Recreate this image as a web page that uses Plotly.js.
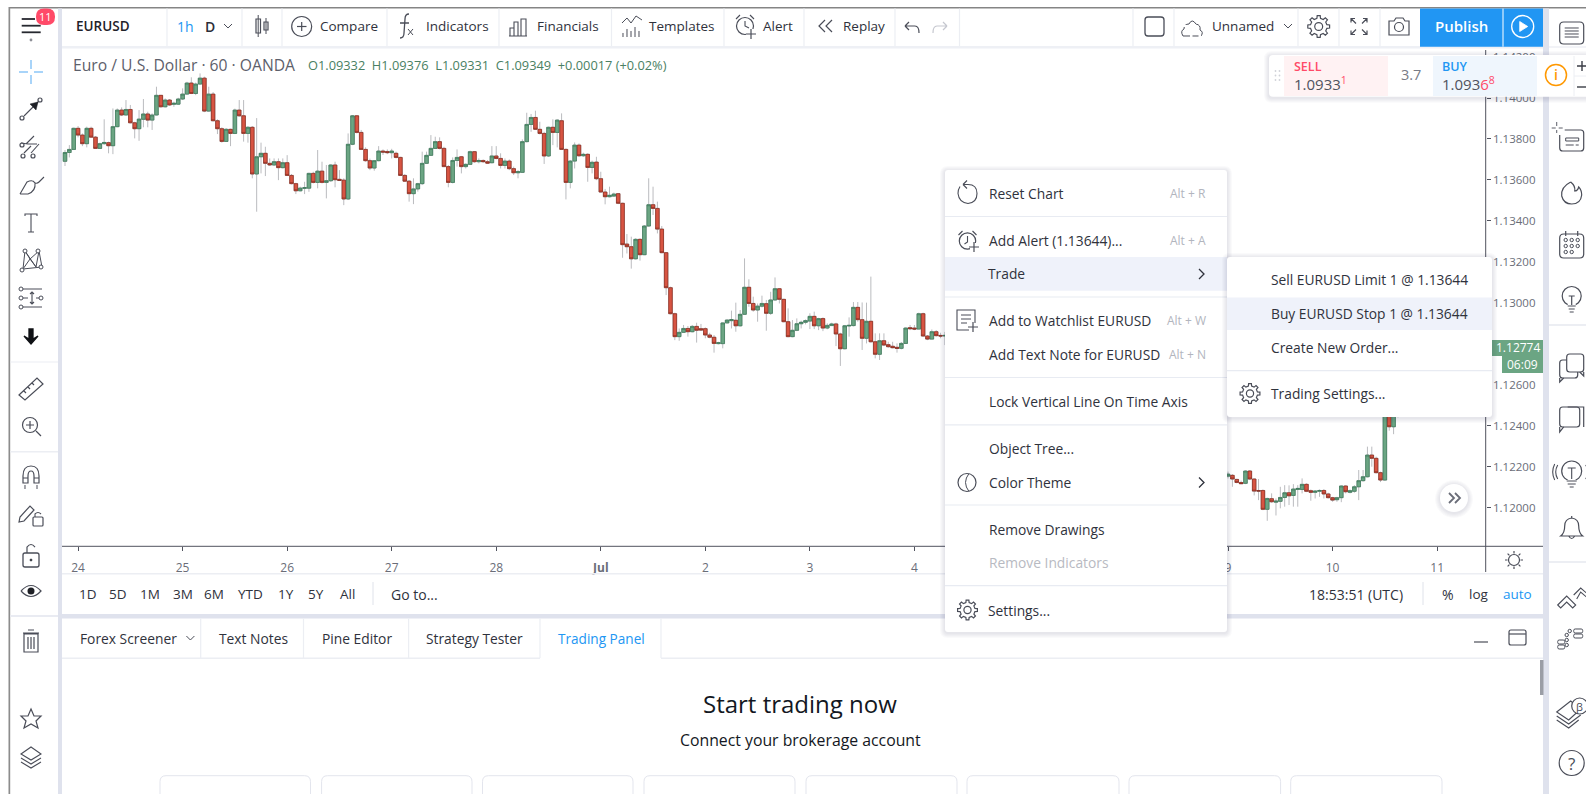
<!DOCTYPE html>
<html><head><meta charset="utf-8">
<script src="https://cdn.plot.ly/plotly-3.0.1.min.js"></script>
<style>html,body{margin:0;padding:0;background:#fff;overflow:hidden}#c{width:1586px;height:794px}</style>
</head><body><div id="c"></div>
<script>
// EURUSD 1h candles, prices in points (1e-5). Candle slots 203..266 sit behind the context menu.
const slotStarts = [0, 267];
const openPts = [
113691,113734,113749,113852,113819,113777,113852,113809,113754,113777,
113782,113767,113860,113941,113917,113944,113879,113850,113896,113922,
113892,113917,114013,113957,113990,113969,113970,113995,114019,114073,
114022,114068,114097,113936,114019,113889,113850,113788,113847,113827,
113941,113913,113827,113857,113629,113713,113730,113681,113673,113689,
113660,113684,113622,113582,113547,113559,113560,113632,113588,113643,
113588,113596,113673,113603,113599,113507,113774,113913,113832,113749,
113694,113658,113694,113741,113739,113733,113730,113710,113622,113594,
113533,113556,113582,113681,113720,113754,113787,113754,113665,113588,
113695,113713,113665,113676,113738,113689,113695,113689,113684,113717,
113705,113671,113692,113655,113635,113637,113787,113871,113905,113847,
113827,113717,113857,113832,113889,113749,113588,113692,113770,113718,
113725,113661,113687,113606,113541,113518,113521,113533,113486,113287,
113274,113215,113310,113235,113375,113479,113461,113360,113245,113074,
112947,112835,112856,112875,112859,112885,112874,112874,112843,112832,
112801,112801,112902,112913,112915,112888,112944,113076,112997,112965,
112984,112996,112949,113014,113069,113017,112908,112835,112866,112898,
112905,112911,112934,112888,112923,112877,112889,112897,112848,112776,
112887,112889,112978,112918,112827,112910,112810,112749,112815,112796,
112788,112783,112778,112802,112879,112877,112872,112947,112838,112823,
112859,112841,112838,
112154,112158,112138,112123,112119,112179,112140,112084,112084,111992,
112044,112027,112031,112050,112073,112060,112089,112089,112114,112083,
112075,112080,112084,112067,112049,112039,112049,112106,112075,112080,
112102,112132,112151,112257,112241,112171,112135,112542,112395,112582];
const highPts = [
113746,113770,113855,113863,113827,113860,113860,113814,113782,113896,
113787,113949,113949,113954,113990,113966,113884,113941,113995,113933,
113925,114055,114014,113998,113995,113982,114001,114047,114079,114101,
114075,114120,114104,114055,114029,113896,113857,113853,113850,113948,
113990,113990,113863,113863,113902,113782,113762,113705,113705,113705,
113705,113721,113629,113586,113567,113591,113635,113640,113746,113689,
113673,113676,113689,113648,113608,113827,113917,113917,113844,113759,
113704,113697,113765,113749,113749,113752,113738,113713,113629,113599,
113608,113586,113738,113738,113819,113811,113808,113762,113673,113710,
113749,113717,113681,113743,113741,113705,113700,113697,113765,113765,
113730,113705,113700,113665,113648,113798,113928,113922,113938,113884,
113835,113860,113896,113896,113925,113754,113697,113783,113778,113733,
113730,113694,113713,113640,113556,113567,113538,113534,113489,113336,
113323,113315,113315,113380,113608,113567,113494,113375,113248,113079,
112952,112875,112892,112887,112892,112903,112897,112880,112854,112843,
112810,112905,112919,112962,113001,112965,113217,113115,113030,112997,
113035,113014,113054,113124,113072,113020,112973,112916,112924,112913,
112919,112949,112957,112927,112929,112900,112903,112903,112854,112892,
112929,113004,113004,113002,113001,113128,112851,112851,112851,112810,
112810,112802,112809,112880,112892,112892,112952,112952,112843,112870,
112867,112854,112858,
112176,112164,112141,112132,112182,112184,112143,112140,112089,112049,
112070,112045,112102,112110,112109,112115,112110,112143,112119,112089,
112086,112089,112091,112073,112053,112053,112109,112109,112089,112110,
112184,112184,112298,112298,112249,112176,112560,112560,112600,112790];
const lowPts = [
113668,113710,113746,113808,113765,113759,113808,113752,113752,113772,
113730,113726,113857,113912,113915,113876,113803,113791,113857,113857,
113844,113915,113954,113954,113962,113957,113966,113990,114016,114019,
114014,114065,113931,113933,113886,113824,113782,113787,113765,113824,
113909,113787,113782,113608,113445,113632,113619,113668,113669,113599,
113656,113619,113578,113531,113544,113531,113542,113583,113559,113583,
113510,113591,113564,113595,113477,113502,113770,113827,113746,113689,
113648,113645,113691,113722,113726,113705,113705,113619,113590,113494,
113482,113543,113575,113678,113717,113751,113749,113665,113564,113583,
113665,113632,113656,113673,113684,113681,113684,113678,113681,113700,
113656,113656,113648,113624,113608,113635,113783,113835,113844,113822,
113678,113713,113770,113759,113746,113505,113559,113656,113713,113713,
113591,113632,113599,113538,113481,113515,113518,113482,113220,113241,
113167,113212,113206,113233,113372,113429,113339,113242,113038,112944,
112818,112815,112853,112835,112856,112806,112864,112827,112827,112757,
112797,112778,112900,112875,112859,112884,112941,112981,112957,112908,
112978,112864,112941,113011,112997,112905,112832,112832,112862,112875,
112895,112872,112872,112867,112862,112871,112887,112789,112692,112773,
112835,112885,112908,112770,112802,112807,112729,112721,112789,112781,
112778,112757,112773,112799,112867,112867,112871,112835,112818,112822,
112835,112827,112794,
112143,112102,112119,112115,112115,112135,112060,112037,111988,111936,
112024,111962,111997,112005,112013,112005,112005,112070,112076,112034,
112045,112053,112045,112045,112029,112029,112027,112070,112070,112073,
112037,112127,112148,112200,112167,112125,112132,112376,112359,112441];
const closePts = [
113734,113749,113852,113819,113777,113852,113809,113754,113777,113783,
113767,113860,113941,113917,113944,113879,113850,113897,113922,113892,
113917,114013,113957,113990,113966,113974,113995,114019,114073,114022,
114068,114097,113936,114019,113889,113850,113788,113847,113827,113941,
113913,113827,113857,113629,113713,113730,113681,113673,113689,113660,
113684,113622,113582,113547,113560,113562,113632,113588,113643,113588,
113596,113673,113601,113598,113507,113774,113913,113832,113749,113694,
113658,113694,113741,113736,113733,113741,113710,113622,113594,113533,
113556,113582,113681,113720,113754,113787,113754,113665,113588,113695,
113710,113665,113676,113738,113689,113695,113689,113682,113717,113705,
113671,113692,113655,113635,113640,113787,113871,113905,113847,113827,
113717,113857,113832,113892,113749,113588,113692,113770,113718,113725,
113661,113686,113606,113541,113518,113525,113531,113486,113284,113274,
113215,113310,113235,113375,113479,113461,113360,113245,113074,112947,
112835,112856,112875,112859,112885,112866,112867,112843,112832,112802,
112805,112902,112916,112918,112888,112944,113076,112997,112965,112984,
112997,112949,113014,113069,113017,112908,112835,112866,112898,112905,
112913,112934,112888,112923,112877,112890,112897,112848,112776,112888,
112890,112978,112918,112827,112910,112810,112749,112815,112794,112786,
112781,112778,112802,112877,112874,112872,112947,112838,112823,112859,
112840,112838,112841,
112164,112140,112123,112117,112179,112140,112081,112081,111992,112045,
112029,112032,112050,112073,112058,112091,112094,112114,112080,112075,
112081,112084,112067,112049,112037,112049,112106,112078,112083,112102,
112132,112151,112257,112241,112171,112135,112542,112395,112582,112774];
const dayTickSlots = [3,27,51,75,99,123,147,171,195,267,291,315];
const dayTickLabels = ['24','25','26','27','28','<b>Jul</b>','2','3','4','9','10','11'];
const priceTicks = [1.12,1.122,1.124,1.126,1.13,1.132,1.134,1.136,1.138,1.14,1.142];

const topTools = [['Compare',318.5],['Indicators',424.5],['Financials',536],['Templates',647.5],['Alert',761.5],['Replay',841.5],['Unnamed',1210.5]];
const rangeButtons = [['1D',87.7],['5D',118],['1M',150],['3M',182.5],['6M',214],['YTD',250.5],['1Y',286],['5Y',316],['All',347]];
const tabs = [['Forex Screener',78.5],['Text Notes',217.5],['Pine Editor',320.5],['Strategy Tester',425]];
const menuRows = [['Reset Chart',193.5,'Alt + R'],['Add Alert (1.13644)...',240.7,'Alt + A'],['Trade',274,''],['Add to Watchlist EURUSD',320.6,'Alt + W'],['Add Text Note for EURUSD',354.4,'Alt + N'],['Lock Vertical Line On Time Axis',401.5,''],['Object Tree...',448,''],['Color Theme',482.5,''],['Remove Drawings',529,'']];
const subRows = [['Sell EURUSD Limit 1 @ 1.13644',279],['Buy EURUSD Stop 1 @ 1.13644',313.5],['Create New Order...',347],['Trading Settings...',393.5]];

const W=1586,H=794,F='"Open Sans", sans-serif';
const shapes=[],ann=[];
const fx=x=>(x/W).toFixed(5),fy=y=>(1-y/H).toFixed(5);
const T='rgba(0,0,0,0)',ST='#4a4d58',TX='#2f323c';
function rect(x0,y0,x1,y1,fill,lc,lw){shapes.push({type:'rect',xref:'paper',yref:'paper',x0:x0/W,x1:x1/W,y0:1-y0/H,y1:1-y1/H,fillcolor:fill||T,line:{color:lc||T,width:lw||0},layer:'above'});}
function line(x0,y0,x1,y1,c,w){shapes.push({type:'line',xref:'paper',yref:'paper',x0:x0/W,x1:x1/W,y0:1-y0/H,y1:1-y1/H,line:{color:c,width:w||1},layer:'above'});}
function ic(cx,cy,d,c,w,fill){const p=d.replace(/(-?[\d.]+)[ ,](-?[\d.]+)/g,(m,a,b)=>fx(cx+ +a)+','+fy(cy+ +b));shapes.push({type:'path',xref:'paper',yref:'paper',path:p,fillcolor:fill||T,line:{color:c===undefined?ST:c,width:w===undefined?1.2:w},layer:'above'});}
function circ(cx,cy,r,c,w,fill){shapes.push({type:'circle',xref:'paper',yref:'paper',x0:(cx-r)/W,x1:(cx+r)/W,y0:1-(cy-r)/H,y1:1-(cy+r)/H,fillcolor:fill||T,line:{color:c||ST,width:w===undefined?1.2:w},layer:'above'});}
function rr(x0,y0,x1,y1,r,fill,c,w){ic(0,0,`M${x0+r} ${y0}L${x1-r} ${y0}Q${x1} ${y0} ${x1} ${y0+r}L${x1} ${y1-r}Q${x1} ${y1} ${x1-r} ${y1}L${x0+r} ${y1}Q${x0} ${y1} ${x0} ${y1-r}L${x0} ${y0+r}Q${x0} ${y0} ${x0+r} ${y0}Z`,c||T,w||0,fill);}
function shadow(x0,y0,x1,y1){for(let k=5;k>=1;k--)rr(x0-k,y0-k+1,x1+k,y1+k+1,3+k,'rgba(30,40,70,0.022)');}
function t(x,y,s,size,color,anchor,weight){ann.push({xref:'paper',yref:'paper',x:x/W,y:1-y/H,text:s,showarrow:false,xanchor:anchor||'left',yanchor:'middle',borderpad:0,font:{family:F,size:size||13.8,color:color||TX,weight:weight||400}});}
function gear(cx,cy,r){let d='';const n=8;for(let i=0;i<n;i++){const a=i/n*2*Math.PI,s=Math.PI/n;const p=(ang,R)=>`${(R*Math.cos(ang)).toFixed(2)} ${(R*Math.sin(ang)).toFixed(2)}`;d+=(i?'L':'M')+p(a-s*.35,r)+'L'+p(a+s*.35,r)+'L'+p(a+s*.55,r*.76)+'L'+p(a+s*1.45,r*.76);}ic(cx,cy,d+'Z');circ(cx,cy,r*.36);}
function chevR(x,y,c){ic(x,y,'M-3 -5L2 0L-3 5',c||ST,1.3);}
function chevD(x,y){ic(x,y,'M-4 -2L0 2L4 -2',ST,1);}

// ---------- frame ----------
const BAND='#dfe2ed',HAIR='#eceef3';
rect(0,0,W,7,'#fff');
rect(9,7,W,8.6,'#858585');
rect(8.5,7,10.2,H,'#8c8c8c');
rect(58,8.6,62,H,BAND);
rect(1543,8.6,1549,H,BAND);
rect(62,46,1543,48.5,'#eef0f5');
rect(1549,46,W,48,'#f2f3f7');
[167,242,282,387,499,611.5,724,804,895,959.5,1133,1174,1298,1339,1380].forEach(x=>line(x,8.6,x,46,HAIR,1.2));
rect(1420,8.6,1543,46.7,'#2196f3');
line(1503,8.6,1503,46.7,'#fff',1);
line(1485.7,50,1485.7,572,'#50535e',1);
line(62,546.3,1543,546.3,'#50535e',1);
rect(62,573,1543,574.5,'#eceef3');
line(373,582,373,605,'#dfe2ea',1);
line(1423,582,1423,605,'#dfe2ea',1);
rect(62,614,1543,618.5,BAND);
rect(10.2,615,58,617,'#e9ebf2');
rect(10.2,361.5,58,362.5,'#eceef3');
rect(10.2,451,58,452.5,'#eceef3');
rect(1549,324,W,326,'#eceef3');
rect(1549,561,W,563,'#eceef3');
rect(62,657.5,1543,659,'#eceef3');
rect(540,656,661,660,'#fff');
[200.7,303.5,408.6,540,661].forEach(x=>line(x,618.5,x,658,HAIR,1.2));
rect(1540,660,1543.5,695,'#9b9ea6');
[[160,310.5],[321.6,472],[482.5,633],[644,795],[806,957],[967,1119],[1129,1280.6],[1290.7,1442]].forEach(c=>rr(c[0],775.7,c[1],800,6,'#fff','#e3e5ed',1));

// ---------- top toolbar ----------
[19,25.7,32.3].forEach((y,i)=>line(21.7,y,i==0?35:40.7,y,'#26282f',1.8));
circ(31,40,1.4,'#8d8f96',0,'#8d8f96');
rr(36,8.5,55,25,8,'#ff4a68');
t(45.5,16.7,'11',11,'#fff','center');
t(75,26.5,'EURUSD',13.5,'#1f2229','left',600);
t(176,26.5,'1h',14,'#2196f3');
t(204,26.5,'D',14,'#2b2e38','left',600);
chevD(228,26);
rect(256,19,260.5,33,T,ST,1.2);line(258.2,15,258.2,37,ST,1);
rect(264,22,268,30,T,ST,1.2);line(266,18,266,34,ST,1);
circ(301.7,26.5,10,ST,1.2);line(297,26.5,306.5,26.5,ST,1.2);line(301.7,22,301.7,31,ST,1.2);
topTools.forEach(a=>t(a[1],26.5,a[0],13.5));
ic(404,26,'M5 -12Q1 -12 1 -7L0 7Q0 12 -4 12M-4 -3L5 -3',ST,1.3);
ic(410,32,'M-2 -3L3 3M3 -3L-2 3',ST,1);
ic(518,28,'M-9 8L9 8M-8 8L-8 0L-4 0L-4 8M-4 8L-4 -6L0 -6L0 8M3 8L3 -9L8 -9L8 8',ST,1.1);
ic(632,28,'M-10 -5L-5 -10L-1 -5L4 -12L10 -8M-9 9L-9 5M-5 9L-5 1M-1 9L-1 3M3 9L3 -1M7 9L7 3',ST,1);
circ(745,26,8.5);ic(745,26,'M0 -5L0 0L4 2M-9 -7L-5 -11M9 -7L5 -11',ST,1.1);rect(746,29,756,38,'#fff');ic(751,34,'M-5 0L5 0M0 -5L0 5',ST,1.2);
ic(826,26,'M-1 -6L-7 0L-1 6M6 -6L0 0L6 6',ST,1.2);
ic(912,27,'M-7 -1L-3 -5M-7 -1L-3 3M-7 -1L3 -1Q7 -1 7 6',ST,1.2);
ic(940,27,'M7 -1L3 -5M7 -1L3 3M7 -1L-3 -1Q-7 -1 -7 6','#c5c7cf',1.2);
rr(1145,17,1164,36,3,T,ST,1.3);
ic(1192,28,'M-9 8Q-12 3 -8 1Q-8 -4 -3 -4Q0 -10 4 -4Q9 -3 8 2Q12 4 9 8L-9 8',ST,1);
rect(1183,25,1186,27,'#fff');rect(1196,21,1198,23.5,'#fff');rect(1190,34.5,1192.5,37,'#fff');rect(1198.5,34.5,1201,37,'#fff');
chevD(1288,26);
gear(1318.7,26.5,11);
ic(1359,26.5,'M-8 -4L-8 -8L-4 -8M4 -8L8 -8L8 -4M8 4L8 8L4 8M-4 8L-8 8L-8 4M-8 -8L-3 -3M8 -8L3 -3M8 8L3 3M-8 8L-3 3',ST,1.2);
ic(1399,27,'M-10 -6L-5 -6L-3 -9L4 -9L6 -6L10 -6L10 8L-10 8Z',ST,1.2);circ(1399,27,4.5);
t(1461.7,26.5,'Publish',15,'#fff','center',600);
circ(1522.7,26.5,11,'#fff',1.3);ic(1522.7,26.5,'M-3 -5L5 0L-3 5Z','#fff',0.8,'#fff');

// ---------- legend ----------
t(71.5,65,'Euro / U.S. Dollar · 60 · OANDA',15.7,'#5d606b');
t(306.5,65,'O1.09332 &nbsp;H1.09376 &nbsp;L1.09331 &nbsp;C1.09349 &nbsp;+0.00017 (+0.02%)',12.8,'#4a7f63');

// ---------- sell / buy ----------
shadow(1269,55,1592,96.7);
rr(1269,55,1592,96.7,4,'#fff');
rect(1284,56,1388,96,'#fff2f3');
rect(1433,56,1537,96,'#eff6fd');
[0,1,2].forEach(r=>{[0,1].forEach(c=>{circ(1275.5+c*4,71+r*4.5,0.9,'#d0d2d8',0,'#d0d2d8');});});
t(1293,67,'SELL',12.5,'#ff4a68','left',600);
t(1293,84,'1.0933<span style="color:#ff4a68"><sup>1</sup></span>',15,'#50535e');
t(1411,75,'3.7',14.5,'#787b86','center');
t(1441,67,'BUY',12.5,'#2196f3','left',600);
t(1441,84,'1.093<span style="color:#ff4a68">6<sup>8</sup></span>',15,'#50535e');
circ(1556,75,10.5,'#ff9800',1.5);
t(1556,75,'i',14,'#ff9800','center',600);
line(1574,56,1574,96,'#eceef3',1);line(1574,76,1592,76,'#eceef3',1);
ic(1582,66,'M-5 0L5 0M0 -5L0 5','#3a3d46',1.4);
ic(1582,87,'M-5 0L5 0','#3a3d46',1.4);

// ---------- price tags + scroll button ----------
rect(1491.7,340,1543,356,'#6ba583');
rect(1502,356,1543,373,'#6ba583');
t(1517.5,348,'1.12774',12,'#fff','center');
t(1522.5,364.5,'06:09',12,'#fff','center');
for(let k=5;k>=1;k--)circ(1454,499,14+k,T,0,'rgba(30,40,70,0.022)');
circ(1454,498,14,T,0,'#fff');
ic(1454,498,'M-5 -5L0 0L-5 5M1 -5L6 0L1 5','#6a6d78',1.8);
circ(1514,560,5.5,ST,1.2);
ic(1514,560,'M0 -9L0 -6.5M0 6.5L0 9M-9 0L-6.5 0M6.5 0L9 0M-6.4 -6.4L-4.6 -4.6M6.4 -6.4L4.6 -4.6M-6.4 6.4L-4.6 4.6M6.4 6.4L4.6 4.6',ST,1.2);

// ---------- bottom bars ----------
rangeButtons.forEach(a=>t(a[1],594,a[0],13.5,TX,'center'));
t(390,594,'Go to...',14);
t(1308,594,'18:53:51 (UTC)',14);
t(1447.5,594,'%',14,TX,'center');
t(1479,594,'log',13.5,TX,'center');
t(1517,594,'auto',13.5,'#2196f3','center');
tabs.forEach(a=>t(a[1],638.5,a[0],13.8));
chevD(190.4,638);
t(557,638.5,'Trading Panel',13.6,'#2196f3');
line(1474,642,1488,642,ST,1.2);
rr(1509,630,1526,645,2,T,ST,1.2);line(1509,634,1526,634,ST,1.2);
t(800,703,'Start trading now',24,'#131722','center');
t(800,739.5,'Connect your brokerage account',15.8,'#131722','center');

// ---------- left toolbar icons ----------
const LX=31;
ic(LX,72,'M-12 0L-3 0M3 0L12 0M0 -12L0 -3M0 3L0 12','#8cc6f7',1.5);
ic(LX,109,'M-7 7L7 -7',ST,1.1);circ(LX-9,118,2);circ(LX+9,100,2);ic(LX+3,106,'M-4 -2L4 -4L2 4Z','#1e2026',0.5,'#1e2026');
ic(LX,147,'M-5 -3L3 -11M0 6L8 -3M-3 -3L6 -3M-10 -4L-3 -3M-7 6L0 -1',ST,1.1);circ(LX-9,145,2);circ(LX-8,156,2);circ(LX+2,156,2);
ic(LX,185,'M-11 9L-4 -3Q2 -6 4 -2Q5 6 -3 9L-11 9M2 -4Q5 0 8 -3L13 -8',ST,1.1);
ic(LX,223,'M-6 -7L-6 -9L6 -9L6 -7M0 -9L0 9M-3 9L3 9',ST,1.1);
ic(LX,260,'M-8 9L-6 -9L5 7L8 -9L11 7L-8 9M-6 -9L-1 -1L8 -9M-8 9L-1 -1L5 7',ST,1);circ(LX-6,251,2,ST,1,'#fff');circ(LX+7,251,2,ST,1,'#fff');circ(LX-9,270,2,ST,1,'#fff');circ(LX+10,267,2,ST,1,'#fff');
ic(LX,298,'M-9 -9L11 -9M-9 0L-3 0M5 0L11 0M-9 9L11 9M1 -6L1 6M-1 -4L1 -6L3 -4M-1 4L1 6L3 4',ST,1.1);circ(LX-10,289,2,ST,1,'#fff');circ(LX-10,298,2,ST,1,'#fff');circ(LX-10,307,2,ST,1,'#fff');circ(LX+10,298,2,ST,1,'#fff');
ic(LX,336,'M-7 0L-2 3L-2 -7L2 -7L2 3L7 0L0 8Z','#0f1115',1.3,'#0f1115');
ic(LX,388,'M-12 7L6 -10L12 -4L-6 12Z M-7 3L-5 5M-3 -1L-1 1M1 -5L3 -3',ST,1.2);
circ(LX-1,425,7.5);ic(LX,425,'M-5 0L3 0M-1 -4L-1 4M5 6L10 11',ST,1.2);
ic(LX,477,'M-8 6L-8 -1Q-8 -11 0 -11Q8 -11 8 -1L8 6L3 6L3 -1Q3 -6 0 -6Q-3 -6 -3 -1L-3 6ZM-8 1L-3 1M3 1L8 1',ST,1.2);ic(LX,477,'M-6 8L-6 12M6 8L6 12',ST,1);
ic(LX-4,514,'M-8 8L-7 3L3 -8L7 -4L-3 7Z',ST,1.2);rr(LX+2,517,LX+12,526,1,'#fff',ST,1.2);ic(LX+7,516,'M-3 1L-3 -2Q0 -5 3 -2',ST,1.1);
rr(LX-8,553,LX+8,567,2,T,ST,1.3);ic(LX,553,'M-4 0L-4 -6Q0 -11 4 -6',ST,1.2);circ(LX,560,1,'#2f323c',0.8,'#2f323c');
ic(LX,591,'M-10 0Q0 -11 10 0Q0 11 -10 0',ST,1.2);circ(LX,591,3.5,'#1e2026',0,'#1e2026');
ic(LX,642,'M-7 -8L-7 10L7 10L7 -8ZM-8 -9L8 -9M-3 -12L3 -12M-3 -5L-3 7M0 -5L0 7M3 -5L3 7',ST,1.2);
ic(LX,719,'M0 -10L3 -3L10 -3L5 2L7 9L0 5L-7 9L-5 2L-10 -3L-3 -3Z',ST,1.2);
ic(LX,757,'M0 -10L10 -3L0 3L-10 -3ZM-10 1L0 7L10 1M-10 5L0 11L10 5',ST,1.1);

// ---------- right toolbar icons ----------
const RX=1571.7;
rr(RX-12,22,RX+12,44,4,T,ST,1.2);ic(RX,33,'M-7 -5L7 -5M-7 -2L7 -2M-7 1L7 1M-7 4L7 4',ST,1);
rr(RX-12,130,RX+12,151,3,T,ST,1.2);rect(RX-20,125,RX-7,135,'#fff');ic(RX,140,'M-6 -2L7 -2L7 1L-6 1ZM-6 5L2 5M4 5L7 5',ST,1);ic(RX-15,128,'M-5 0L-1 0M2 0L6 0M0 -6L0 -2M0 2L0 5','#4a4d58',0.9);
ic(RX,193,'M-1 -11Q-11 -6 -10 3Q-8 11 0 11Q9 11 10 2Q10 -3 7 -6Q6 -2 3 -2Q4 -7 -1 -11',ST,1.2);
rr(RX-12,234,RX+12,258,4,T,ST,1.2);ic(RX,245,'M-6 -14L-6 -9M6 -14L6 -9',ST,1.2);
[[-6,-5],[0,-5],[6,-5],[-6,1],[0,1],[6,1],[-6,7],[0,7]].forEach(p=>circ(RX+p[0],245+p[1],1.7,ST,1));
circ(RX,296,9.5);rect(RX-4,304,RX+4,307,'#fff');ic(RX,301,'M-4 5L4 5M-3 8L3 8M-2 11L2 11M-3 -5L3 -5M0 -5L0 4',ST,1.2);
rr(RX-12,360,RX+6,378,3,T,ST,1.2);rr(RX-5,354,RX+12,372,3,'#fff',ST,1.2);ic(RX,367,'M-12 11L-12 15L-8 11M12 5L12 9L8 5',ST,1.2);
rr(RX-12,407,RX+8,427,3,'#fff',ST,1.2);ic(RX,417,'M-4 -10L12 -10L12 10M-12 10L-12 15L-8 10',ST,1.2);
circ(RX,471,10);rect(RX-5,480,RX+5,484,'#fff');ic(RX,475,'M-5 6L5 6M-4 9L4 9M-2 12L2 12M-4 -7L4 -7M0 -7L0 4M-14 -10Q-18 -3 -14 4M14 -10Q18 -3 14 4M-17 -11Q-21 -3 -17 5M17 -11Q21 -3 17 5',ST,1.1);
ic(RX,528,'M-11 8Q-7 5 -7 -2Q-7 -9 0 -10Q7 -9 7 -2Q7 5 11 8ZM-3 8Q0 13 3 8M0 -10L0 -12',ST,1.2);
ic(RX+1,595,'M-15 10L-6 1L3 10L0 13L-6 7L-12 13ZM1 0L8 -7L16 0L16 4L8 -3L4 4',ST,1.1);
[[-5,-5],[-5,0],[-5,5]].forEach(p=>circ(RX+p[0],640+p[1],1.7,ST,1));[[3,-9],[3,-4]].forEach(p=>rr(RX+p[0]-1,640+p[1]-2,RX+p[0]+8,640+p[1]+2,1.5,T,ST,1));[[-14,2],[-14,7]].forEach(p=>rr(RX+p[0],640+p[1]-2,RX+p[0]+7,640+p[1]+2,1.5,T,ST,1));circ(RX-2,640-9,1.7,ST,1);
ic(RX-3,712,'M-12 0L2 -11L12 -3L0 8ZM-12 4L0 12L12 3M-12 8L0 16L10 8',ST,1.1);circ(RX+8,706,8,ST,1.2,'#fff');
t(RX+8,706,'β',11,ST,'center');
circ(RX,763,12.5);t(RX,763,'?',17,ST,'center');

// ---------- context menu ----------
shadow(945,170,1227,632);
rr(945,170,1227,632,3,'#fff');
rect(945,257,1227,290.7,'#eff2fa');
[216.5,297,377.5,424.8,505,585.6].forEach(y=>line(945,y,1227,y,'#e8ebf2',1.2));
menuRows.forEach(r=>{t(987.5,r[1],r[0],13.8);if(r[2])t(1206.7,r[1],r[2],12,'#b2b5be','right');});
t(987.5,562.4,'Remove Indicators',13.8,'#b8bac2');
t(987.5,610,'Settings...',13.8);
chevR(1202,274,'#2f323c');chevR(1202,482.5,'#2f323c');
ic(968,193.5,'M-8 -7Q-10 -4 -10 0Q-9 9 0 10Q9 9 9 0Q9 -9 0 -9L-5 -9M-5 -9L-1 -13M-5 -9L-1 -5',ST,1.1);
circ(967.5,241,8.2);ic(967.5,241,'M0 -5L0 1L-3 3M-9 -6L-5 -10M9 -6L5 -10',ST,1.1);rect(970,243,979,252,'#fff');ic(974,247,'M-5 0L5 0M0 -5L0 5',ST,1.2);
ic(967,320,'M8 8L8 -10L-10 -10L-10 10L2 10M-6 -5L4 -5M-6 -1L4 -1M-6 3L0 3',ST,1.1);rect(970,323,980,333,'#fff');ic(973,327,'M-5 0L5 0M0 -5L0 5',ST,1.2);
circ(967,482.5,9);ic(967,482.5,'M2 -9Q-5 0 2 9',ST,1);
gear(967.5,610,10);

// ---------- trade submenu ----------
shadow(1227,257,1492,417);
rr(1227,257,1492,417,3,'#fff');
rect(1227,297.4,1492,330,'#eff2fa');
line(1227,370.7,1492,370.7,'#e8ebf2',1.2);
subRows.forEach(r=>t(1270,r[1],r[0],13.8));
gear(1250,393.5,10);

// ---------- candles ----------
const slots=[];
for(let i=0;i<203;i++)slots.push(slotStarts[0]+i);
for(let i=0;i<40;i++)slots.push(slotStarts[1]+i);
const p=v=>v/1e5;
const o=openPts.map(p),h=highPts.map(p),l=lowPts.map(p),c=closePts.map(p);
const GF='#6ba583',RF='#d75442';
const wicks={type:'candlestick',x:slots,open:o,high:h,low:l,close:c,whiskerwidth:0,
  increasing:{line:{color:'rgba(120,122,128,0.5)',width:1},fillcolor:GF},decreasing:{line:{color:'rgba(120,122,128,0.5)',width:1},fillcolor:RF},hoverinfo:'skip',showlegend:false};
const bodies={type:'candlestick',x:slots,open:o,close:c,
  high:o.map((v,i)=>Math.max(v,c[i])),low:o.map((v,i)=>Math.min(v,c[i])),whiskerwidth:0,
  increasing:{line:{color:'#3f7d5c',width:0.7},fillcolor:GF},decreasing:{line:{color:'#8a2f22',width:0.7},fillcolor:RF},hoverinfo:'skip',showlegend:false};

const layout={width:W,height:H,margin:{l:0,r:0,t:0,b:0},paper_bgcolor:'#fff',plot_bgcolor:'#fff',showlegend:false,boxgap:0.18,boxgroupgap:0,boxmode:'overlay',
  xaxis:{domain:[62/W,1485.7/W],range:[(62-65)/4.356,(1485.7-65)/4.356],type:'linear',rangeslider:{visible:false},showgrid:false,zeroline:false,
    tickmode:'array',tickvals:dayTickSlots,ticktext:dayTickLabels,ticks:'outside',ticklen:4,tickcolor:'#50535e',tickwidth:1,showline:false,
    tickfont:{family:F,size:12,color:'#6a6d78'},ticklabelstandoff:6,fixedrange:true},
  yaxis:{domain:[1-546.3/H,1-50/H],range:[1.14-(546.3-98)/20485,1.14+(98-50)/20485],side:'right',showgrid:false,zeroline:false,showline:false,
    tickmode:'array',tickvals:priceTicks,tickformat:'.5f',ticks:'outside',ticklen:4,tickcolor:'#50535e',tickwidth:1,
    tickfont:{family:F,size:11.5,color:'#6a6d78'},fixedrange:true},
  shapes:shapes,annotations:ann};
Plotly.newPlot('c',[wicks,bodies],layout,{staticPlot:true,displayModeBar:false,responsive:false});
</script></body></html>
